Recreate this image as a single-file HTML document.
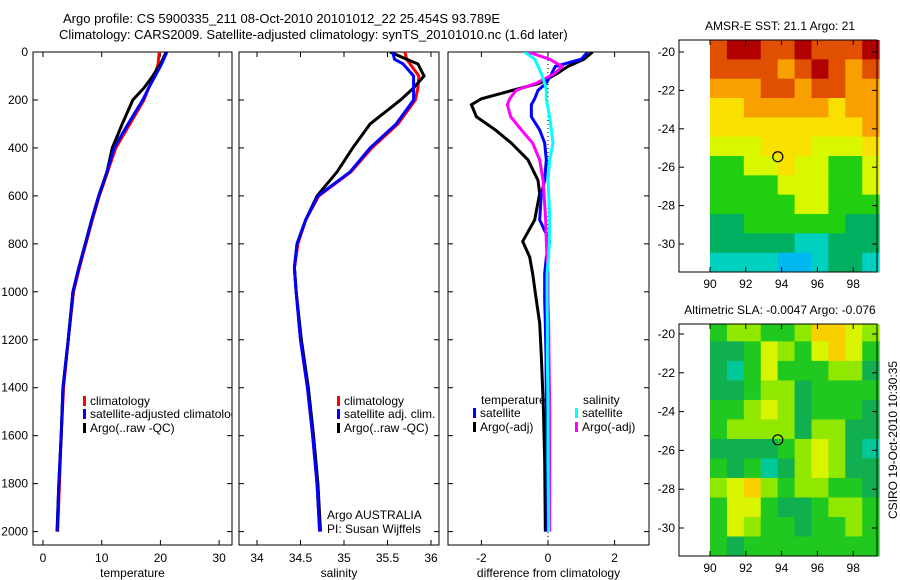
<!DOCTYPE html>
<html><head><meta charset="utf-8"><style>
body{margin:0;background:#fff;width:900px;height:580px;overflow:hidden}
svg{display:block;font-family:"Liberation Sans",sans-serif}
text{font-size:12px;fill:#000}
</style></head><body>
<svg id="c" width="900" height="580" xmlns="http://www.w3.org/2000/svg"></svg>
<script>
// ---- profile data ----
const depthT=[0,50,100,150,200,300,400,500,600,700,800,900,1000,1200,1400,1600,1800,2000];
const tempClim=[19.8,19.6,19.0,18.0,17.2,14.8,12.4,11.0,9.6,8.4,7.3,6.2,5.2,4.3,3.5,3.1,2.8,2.5];
const tempSat=[21.1,20.2,19.1,18.0,17.0,14.5,12.1,10.9,9.5,8.3,7.2,6.1,5.1,4.3,3.4,3.1,2.7,2.4];
const tempArgo=[21.0,20.0,18.7,17.2,15.3,13.5,11.8,10.9,9.5,8.3,7.2,6.1,5.1,4.3,3.4,3.1,2.7,2.4];
const depthS=[0,30,50,100,150,200,300,400,500,600,700,800,900,1000,1200,1400,1600,1800,2000];
const salClim=[35.70,35.72,35.76,35.86,35.85,35.82,35.62,35.32,35.08,34.71,34.56,34.47,34.43,34.45,34.50,34.58,34.64,34.69,34.72];
const salSat=[35.56,35.58,35.68,35.80,35.80,35.80,35.60,35.30,35.07,34.70,34.56,34.46,34.43,34.45,34.50,34.58,34.64,34.69,34.72];
const salArgo=[35.53,35.72,35.85,35.92,35.80,35.65,35.30,35.10,34.92,34.69,34.56,34.46,34.43,34.45,34.51,34.59,34.65,34.70,34.73];
const depthD=[0,30,60,90,130,160,195,220,270,325,380,450,535,590,700,790,855,925,1035,1130,1270,1480,1700,2000];
const dTempArgo=[1.34,1.08,0.6,0.27,-0.25,-1.07,-2.0,-2.3,-2.15,-1.58,-1.1,-0.6,-0.3,-0.25,-0.4,-0.76,-0.55,-0.46,-0.35,-0.25,-0.2,-0.14,-0.1,-0.08];
const dTempSat=[1.19,1.0,0.22,0.11,-0.05,-0.3,-0.4,-0.5,-0.5,-0.25,-0.1,-0.05,-0.1,-0.2,-0.25,0.05,-0.05,-0.1,-0.1,-0.08,-0.06,-0.05,-0.03,-0.02];
const dSalSat=[-0.7,-0.4,-0.3,-0.2,-0.1,-0.05,-0.05,-0.02,0.05,0.1,0.15,0.05,0,0.02,0.05,0.04,0.02,-0.03,-0.03,-0.02,-0.02,0,0,0.02];
const dSalArgo=[-0.6,0.05,0.42,0.2,-0.35,-0.96,-1.15,-1.22,-1.12,-0.8,-0.46,-0.25,-0.15,-0.12,-0.07,-0.05,-0.03,0,0,0.02,0.03,0.05,0.05,0.05];
const depthTicks=[0,200,400,600,800,1000,1200,1400,1600,1800,2000];
const tTicks=[0,10,20,30], sTicks=[34,34.5,35,35.5,36], dTicks=[-2,0,2];
// ---- map data (rows north->south, cols west->east from 90E) ----
const sstGrid=[[8,9,9,8,8,9,8,8,8,9],[8,8,8,8,7,8,9,8,7,8],[7,7,7,8,8,7,8,8,7,7],[6,6,7,7,7,7,7,6,7,7],[6,6,6,6,6,6,6,6,6,7],[5,5,5,6,6,6,5,5,5,6],[4,4,5,5,6,5,5,4,4,5],[4,4,4,4,5,5,5,4,4,5],[4,4,4,4,4,5,5,4,4,4],[3,3,4,4,4,4,4,4,3,3],[3,3,3,3,3,2,2,3,3,3],[2,2,2,2,1,1,2,3,3,2]];
const slaGrid=[[2,3,3,2,2,3,5,5,4,3],[1,1,2,4,3,2,4,5,4,2],[1,0,2,4,2,2,2,3,3,1],[1,1,2,3,3,1,2,2,2,2],[2,2,3,4,3,1,2,2,2,1],[2,3,3,3,3,1,3,3,1,1],[1,1,1,1,2,3,4,3,1,0],[2,1,2,0,1,3,4,3,1,1],[3,4,5,3,2,3,3,2,2,1],[2,4,4,2,1,1,2,3,3,2],[2,4,3,2,2,1,2,2,3,2],[2,1,2,2,2,2,2,2,2,2]];
const sstPal=["#00a0f8","#00b8f0","#00d0c0","#00b060","#20d010","#d8f800","#f8e000","#f8a000","#e05000","#b00000"];
const slaPal=["#00c898","#10b050","#20c820","#90e800","#d8f400","#f8d000"];
const latTicks=[-20,-22,-24,-26,-28,-30], lonTicks=[90,92,94,96,98];
const argoLon=93.789, argoLat=-25.454;

const S=document.getElementById('c'), NS='http://www.w3.org/2000/svg';
function el(t,a,p){const e=document.createElementNS(NS,t);for(const k in a)e.setAttribute(k,a[k]);(p||S).appendChild(e);return e;}
function txt(x,y,s,a,p){const e=el('text',Object.assign({x:x,y:y},a||{}),p);e.textContent=s;return e;}
const yD=d=>52+d*0.2398;
function panel(name,x0,x1,fx,ticks,label,ylabels){
  const g=el('g',{});
  
  
  el('rect',{x:x0,y:52,width:x1-x0,height:493,fill:'none',stroke:'#000','stroke-width':1},g);
  depthTicks.forEach(d=>{const y=yD(d);
    el('line',{x1:x0,x2:x0+5,y1:y,y2:y,stroke:'#000'},g);el('line',{x1:x1-5,x2:x1,y1:y,y2:y,stroke:'#000'},g);
    if(ylabels){const t=txt(x0-5,y+4,String(d),{'text-anchor':'end'},g);}});
  ticks.forEach(v=>{const x=fx(v);
    el('line',{x1:x,x2:x,y1:545,y2:540,stroke:'#000'},g);el('line',{x1:x,x2:x,y1:52,y2:57,stroke:'#000'},g);
    const t=txt(x,562,String(v),{'text-anchor':'middle'},g);});
  const l=txt((x0+x1)/2,577,label,{'text-anchor':'middle'},g);
  
  const cp=el('clipPath',{id:'cp'+name},g);el('rect',{x:x0,y:52,width:x1-x0,height:493},cp);
  return el('g',{'clip-path':'url(#cp'+name+')'},g);
}
function line(g,xs,ds,fx,col,name,w){
  const p=el('polyline',{points:xs.map((v,i)=>fx(v)+','+yD(ds[i])).join(' '),fill:'none',stroke:col,'stroke-width':w||3,'stroke-linejoin':'miter'},g);
  
  
}
function leg(g,x,y,col,s,name){
  el('rect',{x:x,y:y-9,width:3,height:10,fill:col},g);
  const t=txt(x+7,y,s,{},g);
  
  
}
// title
const t1=txt(63,23,'Argo profile: CS 5900335_211 08-Oct-2010 20101012_22 25.454S 93.789E',{style:'font-size:13px'});

const t2=txt(59,39,'Climatology: CARS2009. Satellite-adjusted climatology: synTS_20101010.nc (1.6d later)',{style:'font-size:13px'});

// panel 1
const fT=v=>43+v*5.87;
let g=panel('temperature-panel',33,232,fT,tTicks,'temperature',true);
line(g,tempClim,depthT,fT,'#f00','temp-climatology-line');
line(g,tempSat,depthT,fT,'#00f','temp-satellite-line');
line(g,tempArgo,depthT,fT,'#000','temp-argo-line');
line(g,tempSat,depthT,fT,'#00f','temp-satellite-line-top',2.5);
leg(g,83,405,'#f00','climatology','legend-climatology');
leg(g,83,418,'#00f','satellite-adjusted climatology','legend-satellite-adjusted');
leg(g,83,432,'#000','Argo(..raw -QC)','legend-argo');
// panel 2
const fS=v=>257+(v-34)*87;
g=panel('salinity-panel',239,439,fS,sTicks,'salinity',false);
line(g,salClim,depthS,fS,'#f00','sal-climatology-line');
line(g,salArgo,depthS,fS,'#000','sal-argo-line');
line(g,salSat,depthS,fS,'#00f','sal-satellite-line');
leg(g,337,405,'#f00','climatology','legend-climatology-sal');
leg(g,337,418,'#00f','satellite adj. clim.','legend-satellite-sal');
leg(g,337,432,'#000','Argo(..raw -QC)','legend-argo-sal');
let a1=txt(327,519,'Argo AUSTRALIA',{},g);
let a2=txt(327,533,'PI: Susan Wijffels',{},g);
// panel 3
const fD=v=>548+v*33.3;
g=panel('difference-panel',448,649,fD,dTicks,'difference from climatology',false);
el('line',{x1:fD(0),x2:fD(0),y1:52,y2:545,stroke:'#000','stroke-dasharray':'1,3'},g);
line(g,dTempArgo,depthD,fD,'#000','dtemp-argo-line');
line(g,dTempSat,depthD,fD,'#00f','dtemp-satellite-line');
line(g,dSalArgo,depthD,fD,'#f0f','dsal-argo-line');
line(g,dSalSat,depthD,fD,'#0ff','dsal-satellite-line');
let lt=txt(481,404,'temperature',{},g);
let ls=txt(583,404,'salinity',{},g);
leg(g,473,417,'#00f','satellite','legend-temp-satellite');
leg(g,473,431,'#000','Argo(-adj)','legend-temp-argo');
leg(g,575,417,'#0ff','satellite','legend-sal-satellite');
leg(g,575,431,'#f0f','Argo(-adj)','legend-sal-argo');
// maps
function map(name,top,bot,latTop,latPx,grid,pal,title){
  const gg=el('g',{});
  
  
  const fx=l=>710+(l-90)*17.9, fy=l=>latTop+(-20-l)*latPx;
  const rows=grid.length, cols=grid[0].length;
  const lat0=-19.375, lat1=-20-(bot-latTop)/latPx, lon1=99.45;
  const dLat=(lat0-lat1)/rows, dLon=(lon1-90)/cols;
  grid.forEach((r,i)=>r.forEach((v,j)=>{
    const xa=fx(90+j*dLon), xb=fx(90+(j+1)*dLon), ya=fy(lat0-i*dLat), yb=fy(lat0-(i+1)*dLat);
    const c=el('rect',{x:xa,y:Math.max(ya,top),width:xb-xa+0.5,height:yb-Math.max(ya,top)+0.5,fill:pal[v]},gg);
    
    
  }));
  el('rect',{x:679,y:top,width:198,height:bot-top,fill:'none',stroke:'#000'},gg);
  latTicks.forEach(l=>{const y=fy(l);el('line',{x1:679,x2:684,y1:y,y2:y,stroke:'#000'},gg);el('line',{x1:872,x2:877,y1:y,y2:y,stroke:'#000'},gg);
    const t=txt(675,y+4,String(l),{'text-anchor':'end'},gg);});
  lonTicks.forEach(l=>{const x=fx(l);el('line',{x1:x,x2:x,y1:bot,y2:bot-5,stroke:'#000'},gg);el('line',{x1:x,x2:x,y1:top,y2:top+5,stroke:'#000'},gg);
    const t=txt(x,bot+16,String(l),{'text-anchor':'middle'},gg);});
  const c=el('circle',{cx:fx(argoLon),cy:fy(argoLat),r:5,fill:'none',stroke:'#000','stroke-width':1.2},gg);
  
  const t=txt(780,top-10,title,{'text-anchor':'middle'},gg);
  
}
map('sst-map',40,272,52,19.2,sstGrid,sstPal,'AMSR-E SST: 21.1 Argo: 21');
map('sla-map',324,556,334,19.4,slaGrid,slaPal,'Altimetric SLA: -0.0047 Argo: -0.076');
const cs=txt(0,0,'CSIRO 19-Oct-2010 10:30:35',{'text-anchor':'middle',transform:'translate(897,440) rotate(-90)'});

</script>
</body></html>
